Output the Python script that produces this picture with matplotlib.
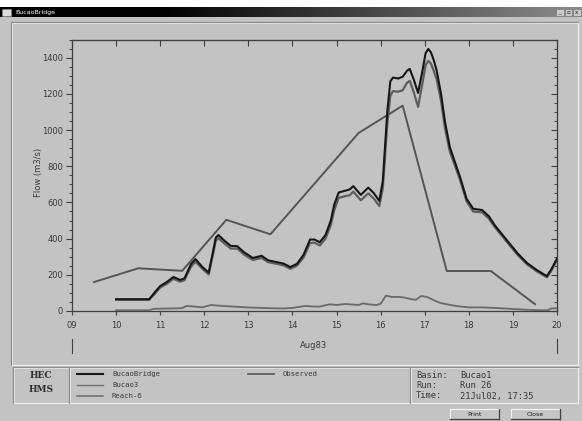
import numpy as np
import matplotlib
matplotlib.use("Agg")
import matplotlib.pyplot as plt
from matplotlib.patches import Rectangle
from matplotlib.ticker import MultipleLocator

# ---------------- data ----------------
bridge_t = [10.0, 10.75, 10.85, 11.0, 11.15, 11.3, 11.45, 11.55, 11.7, 11.8, 11.95, 12.1, 12.2, 12.26, 12.32,
            12.45, 12.6, 12.75, 12.9, 13.1, 13.3, 13.45, 13.65, 13.8, 13.95, 14.1, 14.25, 14.4, 14.5,
            14.62, 14.75, 14.87, 14.95, 15.05, 15.2, 15.3, 15.38, 15.55, 15.72, 15.85, 15.97, 16.05,
            16.15, 16.22, 16.28, 16.4, 16.5, 16.6, 16.66, 16.75, 16.85, 16.95, 17.02, 17.08, 17.14, 17.2,
            17.27, 17.37, 17.46, 17.57, 17.8, 17.95, 18.1, 18.3, 18.45, 18.6, 18.86, 19.1, 19.32, 19.55,
            19.77, 19.87, 20.0]
bridge_q = [65, 65, 95, 138, 160, 188, 172, 180, 260, 287, 245, 212, 330, 405, 420,
            390, 360, 358, 325, 293, 305, 280, 270, 262, 243, 260, 310, 395, 395,
            380, 420, 500, 590, 655, 665, 672, 690, 642, 682, 650, 608, 720,
            1100, 1270, 1290, 1285, 1295, 1328, 1338, 1280, 1205, 1330, 1425, 1448, 1430, 1390,
            1330, 1200, 1045, 905, 741, 620, 565, 558, 525, 470, 392, 320, 265, 225,
            193, 230, 290]

bucao3_t = [10.0, 10.75, 10.85, 11.0, 11.15, 11.3, 11.45, 11.55, 11.7, 11.8, 11.95, 12.1, 12.2, 12.26, 12.32,
            12.45, 12.6, 12.75, 12.9, 13.1, 13.3, 13.45, 13.65, 13.8, 13.95, 14.1, 14.25, 14.4, 14.5,
            14.62, 14.75, 14.87, 14.95, 15.05, 15.2, 15.3, 15.38, 15.55, 15.72, 15.85, 15.97, 16.05,
            16.15, 16.22, 16.28, 16.4, 16.5, 16.6, 16.66, 16.75, 16.85, 16.95, 17.02, 17.08, 17.14, 17.2,
            17.27, 17.37, 17.46, 17.57, 17.8, 17.95, 18.1, 18.3, 18.45, 18.6, 18.86, 19.1, 19.32, 19.55,
            19.77, 19.87, 20.0]
bucao3_q = [62, 62, 88, 130, 150, 178, 162, 170, 245, 272, 235, 202, 315, 388, 402,
            375, 345, 345, 312, 282, 293, 270, 260, 252, 233, 250, 295, 375, 378,
            362, 400, 475, 560, 625, 635, 640, 660, 612, 650, 620, 580, 680,
            1030, 1190, 1215, 1212, 1220, 1262, 1272, 1210, 1128, 1260, 1360, 1382, 1368, 1330,
            1280, 1160, 1010, 880, 725, 605, 550, 545, 512, 460, 383, 312, 258, 218,
            186, 222, 282]

reach6_t = [10.0, 10.75, 10.85, 11.0, 11.3, 11.5, 11.6, 11.8, 11.95, 12.15, 12.4, 12.7, 12.95, 13.3,
            13.55, 13.8, 14.0, 14.3, 14.45, 14.6, 14.85, 15.0, 15.2, 15.35, 15.5, 15.6, 15.75, 15.9,
            16.0, 16.08, 16.12, 16.25, 16.4, 16.55, 16.7, 16.8, 16.92, 17.05, 17.2, 17.35, 17.6,
            17.8, 18.0, 18.3, 18.5, 18.8, 19.0, 19.3, 19.5, 19.7, 19.8, 19.87, 20.0]
reach6_q = [4, 4, 12, 13, 14, 16, 28, 24, 20, 33, 28, 24, 20, 17,
            15, 14, 17, 28, 25, 24, 37, 33, 39, 36, 33, 42, 36, 33,
            40, 70, 85, 78, 78, 74, 65, 62, 83, 78, 60, 45, 32,
            25, 20, 20, 18, 14, 11, 7, 5, 4, 5, 14, 15]

obs_t = [9.5, 10.5, 11.5, 12.5, 13.5, 15.5, 16.5, 17.5, 18.5, 19.5]
obs_q = [160, 236, 222, 504, 424, 984, 1135, 221, 221, 38]

xtick_vals = list(range(9, 21))
xtick_labels = ["09", "10", "11", "12", "13", "14", "15", "16", "17", "18", "19", "20"]
ytick_vals = [0, 200, 400, 600, 800, 1000, 1200, 1400]

legend_names = ["BucaoBridge", "Bucao3", "Reach-6", "Observed"]
info_keys = ["Basin:", "Run:", "Time:"]
info_vals = ["Bucao1", "Run 26", "21Jul02, 17:35"]

# ---------------- styles ----------------
GRAY = "#c3c3c3"
TXT = "#3a3a3a"
c_bridge, c_b3, c_r6, c_obs = "#161616", "#5e5e5e", "#6a6a6a", "#555555"

W, H = 582, 421
fig = plt.figure(figsize=(W / 100, H / 100), dpi=100)
fig.patch.set_facecolor(GRAY)

bg = fig.add_axes([0, 0, 1, 1])
bg.set_axis_off()
bg.add_patch(Rectangle((0, 0), W, H, color=GRAY, zorder=0))
bg.add_patch(Rectangle((0, 0), W, 7, color="white", zorder=1))
# title bar gradient
grad = np.clip((np.linspace(0, W, 300) - 160) / (W - 160), 0, 1) * 0.55
bg.imshow(np.tile(grad, (2, 1)), cmap="gray", vmin=0, vmax=1, extent=(0, W, 17, 7),
          aspect="auto", zorder=2, interpolation="bilinear")
bg.add_patch(Rectangle((2, 9), 9, 7, facecolor="#dcdcdc", edgecolor="#888888", lw=0.5, zorder=3))
bg.text(15, 12.3, "BucaoBridge", color="white", fontsize=4.5, va="center", ha="left", zorder=3)
for i, g in enumerate(["_", "▫", "x"]):
    x0 = 556 + i * 8.5
    bg.add_patch(Rectangle((x0, 9), 7.5, 7, facecolor="#c8c8c8", edgecolor="#707070", lw=0.4, zorder=3))
    bg.text(x0 + 3.75, 12.6, g, fontsize=4, ha="center", va="center", color="#222222", zorder=4)


def sunken(x0, y0, x1, y1):
    bg.plot([x0, x1], [y0, y0], color="#8c8c8c", lw=0.9, zorder=3)
    bg.plot([x0, x0], [y0, y1], color="#8c8c8c", lw=0.9, zorder=3)
    bg.plot([x0 + 1, x1], [y1, y1], color="#f0f0f0", lw=0.9, zorder=3)
    bg.plot([x1, x1], [y0 + 1, y1], color="#f0f0f0", lw=0.9, zorder=3)
    bg.plot([x0 + 1, x1 - 1], [y0 + 1, y0 + 1], color="#e6e6e6", lw=0.6, zorder=3)
    bg.plot([x0 + 1, x0 + 1], [y0 + 1, y1 - 1], color="#e6e6e6", lw=0.6, zorder=3)


sunken(11, 22, 578, 365)
sunken(13, 367, 578, 403)
for xd in (69, 410):
    bg.plot([xd, xd], [367, 403], color="#8c8c8c", lw=0.9, zorder=3)
    bg.plot([xd + 1, xd + 1], [368, 402], color="#eeeeee", lw=0.6, zorder=3)

# HEC-HMS logo
bg.text(41, 376, "HEC", fontsize=6.5, family="DejaVu Serif", ha="center", va="center",
        color="#303030", fontweight="bold", zorder=4)
bg.text(41, 390, "HMS", fontsize=6.5, family="DejaVu Serif", ha="center", va="center",
        color="#303030", fontweight="bold", zorder=4)

# legend entries
leg = [(77, 374, c_bridge, 1.5, legend_names[0]),
       (77, 385, "#707070", 1.0, legend_names[1]),
       (77, 396, c_r6, 1.1, legend_names[2]),
       (248, 374, c_obs, 1.2, legend_names[3])]
for x0, y0, col, lw, name in leg:
    bg.plot([x0, x0 + 26], [y0, y0], color=col, lw=lw, zorder=4)
    bg.text(x0 + 35, y0, name, fontsize=5.2, family="DejaVu Sans Mono", ha="left", va="center",
            color=TXT, zorder=4)

for i, (k, v) in enumerate(zip(info_keys, info_vals)):
    yy = [375, 385.5, 396][i]
    bg.text(416, yy, k, fontsize=6.3, family="DejaVu Sans Mono", ha="left", va="center", color=TXT, zorder=4)
    bg.text(460, yy, v, fontsize=6.3, family="DejaVu Sans Mono", ha="left", va="center", color=TXT, zorder=4)


def button(x0, y0, w, h, label):
    bg.add_patch(Rectangle((x0, y0), w, h, facecolor="#c6c6c6", edgecolor="none", zorder=3))
    bg.plot([x0, x0 + w], [y0, y0], color="#f4f4f4", lw=0.8, zorder=4)
    bg.plot([x0, x0], [y0, y0 + h], color="#f4f4f4", lw=0.8, zorder=4)
    bg.plot([x0, x0 + w], [y0 + h, y0 + h], color="#404040", lw=0.9, zorder=4)
    bg.plot([x0 + w, x0 + w], [y0, y0 + h], color="#404040", lw=0.9, zorder=4)
    bg.text(x0 + w / 2, y0 + h / 2, label, fontsize=4.5, ha="center", va="center", color="#202020", zorder=5)


button(450, 409, 49, 10, "Print")
button(511, 409, 49, 10, "Close")

# x-axis date annotation
bg.text(314, 345, "Aug83", fontsize=6, ha="center", va="center", color=TXT, zorder=4)
for xb in (72, 557):
    bg.plot([xb, xb], [339, 353], color="#404040", lw=0.8, zorder=4)
bg.text(38, 172, "Flow (m3/s)", fontsize=6, rotation=90, ha="center", va="center", color=TXT, zorder=4)

bg.set_xlim(0, W)
bg.set_ylim(H, 0)

# ---------------- plot axes ----------------
ax = fig.add_axes([72 / W, (H - 311) / H, 485 / W, (311 - 39.6) / H])
ax.set_facecolor("none")
ax.plot(obs_t, obs_q, color=c_obs, lw=1.4, zorder=3, solid_joinstyle="round")
ax.plot(reach6_t, reach6_q, color=c_r6, lw=1.3, zorder=3, solid_joinstyle="round")
ax.plot(bucao3_t, bucao3_q, color=c_b3, lw=1.6, zorder=4, solid_joinstyle="round")
ax.plot(bridge_t, bridge_q, color=c_bridge, lw=1.5, zorder=5, solid_joinstyle="round")

ax.set_xlim(9, 20)
ax.set_ylim(0, 1500)
for s in ax.spines.values():
    s.set_color("#404040")
    s.set_linewidth(0.9)

ax.set_xticks(xtick_vals)
ax.set_xticklabels(xtick_labels)
ax.set_yticks(ytick_vals)
ax.set_yticklabels([str(v) for v in ytick_vals])
ax.yaxis.set_minor_locator(MultipleLocator(50))
ax.tick_params(axis="x", direction="out", length=3, width=0.8, color="#404040",
               labelsize=6, labelcolor=TXT, pad=4)
ax.tick_params(axis="y", which="major", direction="out", length=4.3, width=0.8, color="#404040",
               labelsize=6, labelcolor=TXT, pad=2)
ax.tick_params(axis="y", which="minor", direction="out", length=2.2, width=0.7, color="#404040")

top = ax.secondary_xaxis("top")
top.set_xticks(xtick_vals)
top.tick_params(direction="in", length=4.3, width=0.8, color="#404040", labeltop=False)
top.spines["top"].set_color("#404040")

right = ax.secondary_yaxis("right")
right.set_yticks(ytick_vals)
right.yaxis.set_minor_locator(MultipleLocator(50))
right.tick_params(which="major", direction="in", length=4.3, width=0.8, color="#404040", labelright=False)
right.tick_params(which="minor", direction="in", length=2.2, width=0.7, color="#404040")
right.spines["right"].set_color("#404040")

fig.savefig("out.png", dpi=100, facecolor=GRAY)
